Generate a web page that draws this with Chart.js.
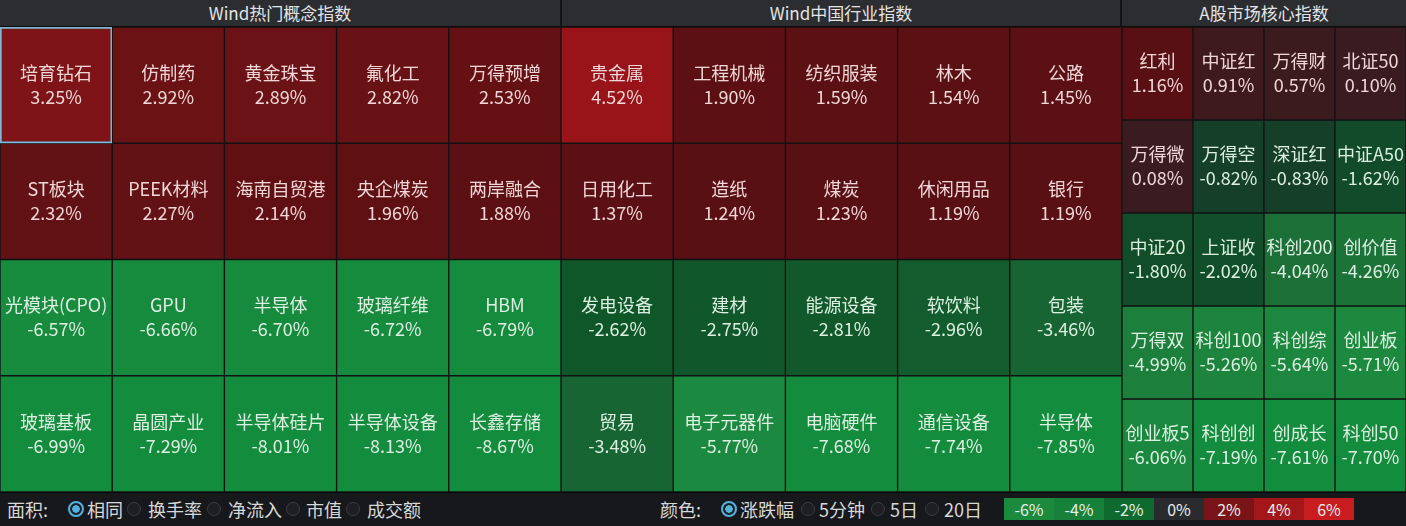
<!DOCTYPE html>
<html>
<head>
<meta charset="utf-8">
<script src="https://cdn.jsdelivr.net/npm/chart.js@4.4.1/dist/chart.umd.min.js"></script>
<style>
    html, body { margin: 0; padding: 0; }
    body {
        width: 1406px; height: 526px; overflow: hidden; position: relative;
        background: #141518;
        font-family: "Noto Sans CJK SC", "Noto Sans", sans-serif;
    }
    .head {
        position: absolute; top: 0; height: 26px; line-height: 26px;
        background: #2b2d31; color: #e4e4e4; font-size: 17px; text-align: center;
        border-bottom: 1px solid #0c0c0c;
    }
    .panel { position: absolute; top: 27px; }
    .bottom {
        position: absolute; left: 0; top: 492px; width: 1406px; height: 34px;
        background: #17181b; border-top: 1px solid #0a0a0a; color: #d8d8d8; font-size: 18px;
    }
    .bottom span { position: absolute; top: 0; height: 33px; line-height: 32px; white-space: nowrap; }
    .bottom i {
        position: absolute; top: 9px; width: 12px; height: 12px; border-radius: 50%;
        border: 1.5px solid #3b3d42; background: #1d1f23; margin-left: -7px;
    }
    .bottom i.on { border: 2px solid #4fb3df; background: radial-gradient(circle, #4fb3df 0 3.5px, #1d1f23 4px); top: 8px; }
    .scale { position: absolute; top: 5px; left: 1004px; height: 22px; display: flex; }
    .scale div { width: 50px; height: 22px; line-height: 22px; text-align: center; font-size: 16px; color: #e6efe8; }
</style>
</head>
<body>

<div class="head" style="left:0;width:560px;">Wind热门概念指数</div>
<div class="head" style="left:562px;width:558px;">Wind中国行业指数</div>
<div class="head" style="left:1122px;width:284px;">A股市场核心指数</div>

<div class="panel" style="left:0;"><canvas id="concept" width="561" height="465"></canvas></div>
<div class="panel" style="left:561px;"><canvas id="industry" width="561" height="465"></canvas></div>
<div class="panel" style="left:1122px;"><canvas id="core" width="284" height="465"></canvas></div>

<div class="bottom">
    <span style="left:7px;">面积:</span>
    <i class="on" style="left:75px;"></i><span style="left:87px;">相同</span>
    <i style="left:134px;"></i><span style="left:148px;">换手率</span>
    <i style="left:214px;"></i><span style="left:228px;">净流入</span>
    <i style="left:293px;"></i><span style="left:306px;">市值</span>
    <i style="left:353px;"></i><span style="left:367px;">成交额</span>

    <span style="left:660px;">颜色:</span>
    <i class="on" style="left:728px;"></i><span style="left:740px;">涨跌幅</span>
    <i style="left:808px;"></i><span style="left:819px;">5分钟</span>
    <i style="left:878px;"></i><span style="left:890px;">5日</span>
    <i style="left:932px;"></i><span style="left:944px;">20日</span>
    <div class="scale" id="scale"></div>
</div>

<script>
    "use strict";

    // Wind热门概念指数 (5 x 4)
    const conceptNames = [
        "培育钻石", "仿制药", "黄金珠宝", "氟化工", "万得预增",
        "ST板块", "PEEK材料", "海南自贸港", "央企煤炭", "两岸融合",
        "光模块(CPO)", "GPU", "半导体", "玻璃纤维", "HBM",
        "玻璃基板", "晶圆产业", "半导体硅片", "半导体设备", "长鑫存储"
    ];
    const conceptValues = [
        3.25, 2.92, 2.89, 2.82, 2.53,
        2.32, 2.27, 2.14, 1.96, 1.88,
        -6.57, -6.66, -6.70, -6.72, -6.79,
        -6.99, -7.29, -8.01, -8.13, -8.67
    ];

    // Wind中国行业指数 (5 x 4)
    const industryNames = [
        "贵金属", "工程机械", "纺织服装", "林木", "公路",
        "日用化工", "造纸", "煤炭", "休闲用品", "银行",
        "发电设备", "建材", "能源设备", "软饮料", "包装",
        "贸易", "电子元器件", "电脑硬件", "通信设备", "半导体"
    ];
    const industryValues = [
        4.52, 1.90, 1.59, 1.54, 1.45,
        1.37, 1.24, 1.23, 1.19, 1.19,
        -2.62, -2.75, -2.81, -2.96, -3.46,
        -3.48, -5.77, -7.68, -7.74, -7.85
    ];

    // A股市场核心指数 (4 x 5)
    const coreNames = [
        "红利", "中证红", "万得财", "北证50",
        "万得微", "万得空", "深证红", "中证A50",
        "中证20", "上证收", "科创200", "创价值",
        "万得双", "科创100", "科创综", "创业板",
        "创业板5", "科创创", "创成长", "科创50"
    ];
    const coreValues = [
        1.16, 0.91, 0.57, 0.10,
        0.08, -0.82, -0.83, -1.62,
        -1.80, -2.02, -4.04, -4.26,
        -4.99, -5.26, -5.64, -5.71,
        -6.06, -7.19, -7.61, -7.70
    ];

    // colour scale legend
    const scaleTicks = [-6, -4, -2, 0, 2, 4, 6];
    const scaleColors = ["#1b8a3d", "#17803a", "#0f6a30", "#2a2b2e", "#7a1418", "#a3161a", "#c81c20"];

    // value -> colour stops
    const colorStops = [
        [-7.0, [20, 140, 62]],
        [-5.5, [29, 136, 63]],
        [-4.0, [27, 110, 55]],
        [-2.5, [14, 84, 40]],
        [-1.5, [19, 74, 42]],
        [-0.5, [24, 58, 40]],
        [0.0, [58, 28, 32]],
        [0.95, [62, 26, 30]],
        [1.1, [88, 16, 20]],
        [2.0, [94, 16, 19]],
        [3.0, [108, 18, 21]],
        [3.3, [130, 20, 23]],
        [4.5, [152, 20, 24]]
    ];

    function valueColor(v) {
        if (v <= colorStops[0][0]) return rgb(colorStops[0][1]);
        for (let i = 1; i < colorStops.length; i++) {
            if (v <= colorStops[i][0]) {
                const a = colorStops[i - 1], b = colorStops[i];
                const t = (v - a[0]) / (b[0] - a[0]);
                return rgb(a[1].map((c, k) => c + (b[1][k] - c) * t));
            }
        }
        return rgb(colorStops[colorStops.length - 1][1]);
    }
    function rgb(c) {
        return "rgb(" + c.map(Math.round).join(",") + ")";
    }

    // draws the name and percent in the middle of each cell
    const cellLabels = {
        id: "cellLabels",
        afterDatasetsDraw(chart) {
            const ctx = chart.ctx;
            const names = chart.config.options.cellNames;
            const values = chart.config.options.cellValues;
            const cols = chart.config.options.cols;
            ctx.save();
            ctx.textAlign = "center";
            ctx.textBaseline = "middle";
            ctx.font = '18px "Noto Sans CJK SC", sans-serif';
            chart.data.datasets.forEach((ds, r) => {
                chart.getDatasetMeta(r).data.forEach((bar, c) => {
                    const p = bar.getProps(["x", "y", "base"], true);
                    const cy = (p.y + p.base) / 2;
                    const i = r * cols + c;
                    ctx.fillStyle = values[i] >= 0 ? "#f0d6d6" : "#dcefe1";
                    ctx.fillText(names[i], p.x, cy - 12);
                    ctx.fillText(values[i].toFixed(2) + "%", p.x, cy + 12);
                });
            });
            ctx.restore();
        }
    };

    function makeGrid(id, names, values, cols, selected) {
        const rows = values.length / cols;
        const datasets = [];
        for (let r = 0; r < rows; r++) {
            const slice = values.slice(r * cols, r * cols + cols);
            datasets.push({
                data: slice.map(() => [r, r + 1]),
                backgroundColor: slice.map(valueColor),
                borderColor: slice.map((v, c) => (selected && r === 0 && c === 0) ? "#7db9d6" : "#111213"),
                borderWidth: slice.map((v, c) => (selected && r === 0 && c === 0) ? 2 : 1),
                borderSkipped: false,
                barPercentage: 1,
                categoryPercentage: 1,
                grouped: false
            });
        }
        return new Chart(document.getElementById(id).getContext("2d"), {
            type: "bar",
            data: { labels: names.slice(0, cols), datasets: datasets },
            options: {
                responsive: false,
                animation: false,
                cellNames: names,
                cellValues: values,
                cols: cols,
                layout: { padding: 0 },
                plugins: { legend: { display: false }, tooltip: { enabled: false } },
                scales: {
                    x: { display: false },
                    y: { display: false, min: 0, max: rows, reverse: true }
                }
            },
            plugins: [cellLabels]
        });
    }

    makeGrid("concept", conceptNames, conceptValues, 5, true);
    makeGrid("industry", industryNames, industryValues, 5, false);
    makeGrid("core", coreNames, coreValues, 4, false);

    // colour legend boxes
    const scaleBox = document.getElementById("scale");
    scaleTicks.forEach((t, i) => {
        const d = document.createElement("div");
        d.style.background = scaleColors[i];
        d.textContent = t + "%";
        scaleBox.appendChild(d);
    });
</script>
</body>
</html>
